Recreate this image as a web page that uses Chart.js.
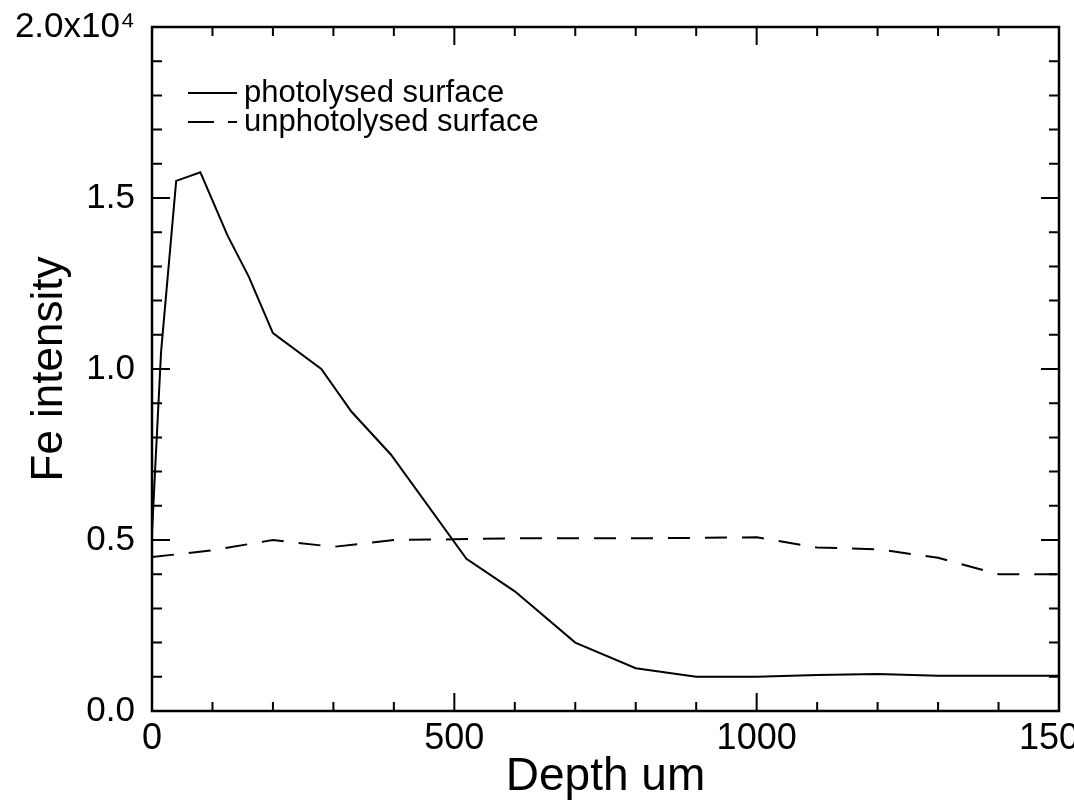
<!DOCTYPE html>
<html>
<head>
<meta charset="utf-8">
<title>Fe intensity vs depth</title>
<script src="https://cdn.jsdelivr.net/npm/chart.js@4"></script>
<style>
  html, body { margin: 0; padding: 0; background: #fff; }
  canvas { display: block; }
</style>
</head>
<body>
<canvas id="grafica" width="1074" height="805"></canvas>
<script>
// datos (profundidad en um, intensidad de Fe)
const photoDepth = [0, 5, 15, 40, 80, 125, 160, 200, 280, 330, 395, 520, 600, 700, 800, 900, 1000, 1100, 1200, 1300, 1400, 1500];
const photoFe = [5200, 7000, 10500, 15500, 15750, 13900, 12700, 11050, 10000, 8750, 7500, 4450, 3500, 2000, 1250, 1000, 1000, 1050, 1080, 1030, 1030, 1030];

const unphotoDepth = [0, 100, 200, 300, 400, 500, 600, 700, 800, 900, 1000, 1100, 1200, 1300, 1400, 1500];
const unphotoFe = [4500, 4700, 5000, 4800, 5000, 5020, 5050, 5050, 5050, 5060, 5080, 4780, 4730, 4480, 4000, 4000];

const seriesLabels = ['photolysed surface', 'unphotolysed surface'];
const xTicks = [0, 500, 1000, 1500];
const yTicks = [0, 5000, 10000, 15000, 20000];

const fuente = "'Liberation Sans', 'DejaVu Sans', sans-serif";

function toPoints(xs, ys) {
    return xs.map((x, i) => ({ x: x, y: ys[i] }));
}

// marco y marcas hacia dentro en los cuatro lados
const marcoPlugin = {
    id: 'marco',
    afterDatasetsDraw(chart) {
        const ctx = chart.ctx;
        const a = chart.chartArea;
        const sx = chart.scales.x;
        const sy = chart.scales.y;
        ctx.save();
        ctx.strokeStyle = '#000';
        ctx.lineWidth = 2.5;
        ctx.strokeRect(a.left, a.top, a.right - a.left, a.bottom - a.top);
        ctx.lineWidth = 2;
        ctx.beginPath();
        for (let v = 0; v <= 1500; v += 100) {
            const px = sx.getPixelForValue(v);
            const len = xTicks.includes(v) ? 18 : 9;
            ctx.moveTo(px, a.bottom);
            ctx.lineTo(px, a.bottom - len);
            ctx.moveTo(px, a.top);
            ctx.lineTo(px, a.top + len);
        }
        for (let v = 0; v <= 20000; v += 1000) {
            const py = sy.getPixelForValue(v);
            const len = yTicks.includes(v) ? 18 : 10;
            ctx.moveTo(a.left, py);
            ctx.lineTo(a.left + len, py);
            ctx.moveTo(a.right, py);
            ctx.lineTo(a.right - len, py);
        }
        ctx.stroke();
        ctx.restore();
    }
};

// leyenda dentro del area del grafico
const leyendaPlugin = {
    id: 'leyendaInterna',
    afterDraw(chart) {
        const ctx = chart.ctx;
        const a = chart.chartArea;
        const x0 = a.left + 36;
        const filas = [a.top + 66, a.top + 95];
        ctx.save();
        chart.data.datasets.forEach((ds, i) => {
            const y = filas[i];
            ctx.strokeStyle = '#000';
            ctx.lineWidth = 2;
            ctx.setLineDash(i === 0 ? [] : [26, 14]);
            ctx.beginPath();
            ctx.moveTo(x0, y);
            ctx.lineTo(x0 + 49, y);
            ctx.stroke();
            ctx.setLineDash([]);
            ctx.fillStyle = '#000';
            ctx.font = '31px ' + fuente;
            ctx.textBaseline = 'middle';
            ctx.fillText(ds.label, x0 + 56, y);
        });
        ctx.restore();
    }
};

const ctx = document.getElementById('grafica').getContext('2d');

window.myChart = new Chart(ctx, {
    type: 'line',
    data: {
        datasets: [
            {
                label: seriesLabels[0],
                data: toPoints(photoDepth, photoFe),
                borderColor: '#000',
                borderWidth: 2,
                pointRadius: 0,
                tension: 0,
                fill: false
            },
            {
                label: seriesLabels[1],
                data: toPoints(unphotoDepth, unphotoFe),
                borderColor: '#000',
                borderWidth: 2,
                borderDash: [22, 15],
                pointRadius: 0,
                tension: 0,
                fill: false
            }
        ]
    },
    options: {
        responsive: false,
        animation: false,
        layout: { padding: { top: 27, right: 15, left: 0, bottom: 0 } },
        plugins: {
            legend: { display: false },
            tooltip: { enabled: false }
        },
        scales: {
            x: {
                type: 'linear',
                min: 0,
                max: 1500,
                grid: { display: false, drawTicks: false },
                border: { display: false },
                afterBuildTicks: (scale) => { scale.ticks = xTicks.map(v => ({ value: v })); },
                ticks: {
                    color: '#000',
                    padding: 6,
                    maxRotation: 0,
                    font: { family: fuente, size: 36 },
                    callback: (v) => String(v)
                },
                title: {
                    display: true,
                    text: 'Depth um',
                    color: '#000',
                    padding: { top: 0, bottom: 0 },
                    font: { family: fuente, size: 46 }
                },
                afterFit: (scale) => {
                    scale.height = 94;
                    scale.paddingLeft = 0;
                    scale.paddingRight = 0;
                }
            },
            y: {
                type: 'linear',
                min: 0,
                max: 20000,
                grid: { display: false, drawTicks: false },
                border: { display: false },
                afterBuildTicks: (scale) => { scale.ticks = yTicks.map(v => ({ value: v })); },
                ticks: {
                    color: '#000',
                    padding: 17,
                    font: { family: fuente, size: 35 },
                    callback: (v) => v === 20000 ? '2.0x10⁴' : (v / 10000).toFixed(1)
                },
                title: {
                    display: true,
                    text: 'Fe intensity',
                    color: '#000',
                    padding: { top: 23, bottom: 0 },
                    font: { family: fuente, size: 44 }
                },
                afterFit: (scale) => {
                    scale.width = 152;
                    scale.paddingTop = 0;
                    scale.paddingBottom = 0;
                }
            }
        }
    },
    plugins: [marcoPlugin, leyendaPlugin]
});
</script>
</body>
</html>
